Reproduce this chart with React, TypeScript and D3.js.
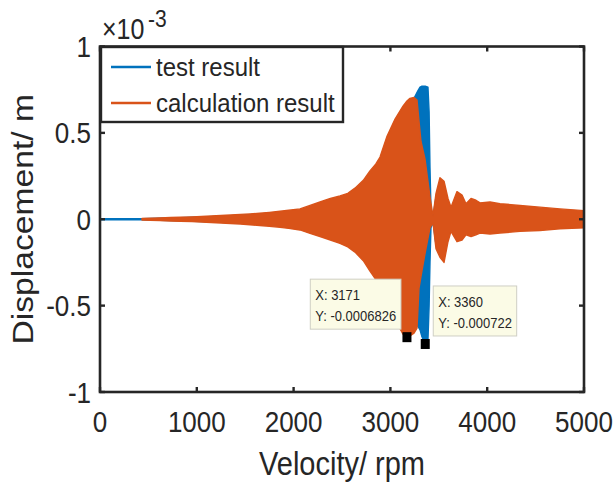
import React from "react";
import * as d3 from "d3";

// ---------- data (displacement values in units of 1e-3 m) ----------
const xTicks = [0, 1000, 2000, 3000, 4000, 5000];
const xTickLabels = ["0", "1000", "2000", "3000", "4000", "5000"];
const yTicks = [-1, -0.5, 0, 0.5, 1];
const yTickLabels = ["-1", "-0.5", "0", "0.5", "1"];
const yExponent = "-3";

const seriesNames = ["test result", "calculation result"];

// test result envelope
const testRpm = [0, 434, 620, 830, 1050, 1250, 1450, 1650, 1860, 2066, 2273, 2479, 2634, 2789, 2893, 2965, 3048, 3130, 3202, 3244, 3285, 3306, 3326, 3360, 3388, 3400, 3409, 3419, 3440, 3471, 3512, 3554, 3595, 3626, 3688, 3740, 3781, 3833, 3926, 4132, 4545, 5000];
const testUpper = [0.003, 0.003, 0.006, 0.009, 0.013, 0.018, 0.023, 0.03, 0.04, 0.05, 0.085, 0.12, 0.16, 0.25, 0.33, 0.44, 0.54, 0.62, 0.67, 0.70, 0.745, 0.765, 0.77, 0.77, 0.765, 0.62, 0.30, 0.06, 0.015, 0.13, 0.21, 0.19, 0.10, 0.05, 0.13, 0.11, 0.07, 0.09, 0.07, 0.07, 0.06, 0.04];
const testLower = [-0.003, -0.003, -0.006, -0.009, -0.013, -0.018, -0.023, -0.03, -0.04, -0.05, -0.085, -0.12, -0.17, -0.27, -0.36, -0.45, -0.55, -0.63, -0.60, -0.60, -0.62, -0.64, -0.68, -0.722, -0.70, -0.50, -0.25, -0.05, -0.015, -0.15, -0.20, -0.21, -0.11, -0.05, -0.11, -0.10, -0.07, -0.08, -0.07, -0.07, -0.055, -0.04];

// calculation result envelope
const calcRpm = [434, 520, 620, 730, 830, 950, 1050, 1150, 1250, 1350, 1450, 1550, 1650, 1750, 1860, 1950, 2066, 2170, 2273, 2380, 2479, 2560, 2634, 2720, 2789, 2850, 2893, 2965, 3048, 3130, 3171, 3202, 3244, 3275, 3295, 3316, 3357, 3409, 3440, 3471, 3512, 3554, 3595, 3626, 3688, 3740, 3781, 3833, 3884, 3926, 4029, 4132, 4339, 4545, 4752, 5000];
const calcUpper = [0.004, 0.006, 0.008, 0.010, 0.012, 0.014, 0.016, 0.019, 0.022, 0.025, 0.028, 0.031, 0.035, 0.040, 0.046, 0.052, 0.06, 0.08, 0.10, 0.12, 0.135, 0.15, 0.18, 0.225, 0.28, 0.32, 0.36, 0.48, 0.58, 0.655, 0.685, 0.70, 0.705, 0.69, 0.57, 0.45, 0.35, 0.13, 0.02, 0.15, 0.24, 0.22, 0.12, 0.07, 0.16, 0.14, 0.09, 0.12, 0.11, 0.095, 0.10, 0.09, 0.08, 0.07, 0.06, 0.05];
const calcLower = [-0.004, -0.006, -0.008, -0.010, -0.012, -0.014, -0.016, -0.019, -0.022, -0.025, -0.028, -0.032, -0.036, -0.041, -0.047, -0.053, -0.062, -0.082, -0.10, -0.12, -0.14, -0.16, -0.19, -0.24, -0.30, -0.35, -0.39, -0.48, -0.58, -0.665, -0.6826, -0.675, -0.66, -0.63, -0.40, -0.33, -0.20, -0.05, -0.02, -0.17, -0.22, -0.25, -0.13, -0.07, -0.13, -0.12, -0.09, -0.10, -0.09, -0.08, -0.085, -0.08, -0.07, -0.065, -0.055, -0.05];

// data tips (real units)
const tipX = [3171, 3360];
const tipY = [-0.0006826, -0.000722];

// ---------- layout / style ----------
const W = 614, H = 484;
const M = { left: 100, right: 584, top: 46.5, bottom: 392 };
const BLUE = "#0072BD";
const ORANGE = "#D95319";
const INK = "#262626";
const FONT = "'Liberation Sans', Arial, Helvetica, sans-serif";
const SY = 1.16; // vertical stretch of glyphs seen in the reference

const x = d3.scaleLinear().domain([0, 5000]).range([M.left, M.right]);
const y = d3.scaleLinear().domain([-1, 1]).range([M.bottom, M.top]);

type Env = { r: number; u: number; l: number };
const zipEnv = (r: number[], u: number[], l: number[]): Env[] => r.map((v, i) => ({ r: v, u: u[i], l: l[i] }));
const testData = zipEnv(testRpm, testUpper, testLower);
const calcData = zipEnv(calcRpm, calcUpper, calcLower);

const area = d3.area<Env>().x((d) => x(d.r)).y0((d) => y(d.l)).y1((d) => y(d.u));

const charW: Record<string, number> = { X: 0.667, Y: 0.667, ":": 0.278, " ": 0.278, "-": 0.333, ".": 0.278 };
const textW = (s: string, fs: number) => s.split("").reduce((a, c) => a + (charW[c] ?? 0.556), 0) * fs;

function T(props: { x: number; y: number; k?: number; rot?: number; children: React.ReactNode; [k: string]: any }) {
  const { x: tx, y: ty, k = SY, rot, children, ...rest } = props;
  const tr = rot != null ? `translate(${tx},${ty}) rotate(${rot}) scale(${k},1)` : `translate(${tx},${ty}) scale(1,${k})`;
  return (
    <text transform={tr} fontFamily={FONT} fill={INK} {...rest}>
      {children}
    </text>
  );
}

export default function App() {
  const tickLen = 5;
  const tips = tipX.map((tx, i) => ({ tx, ty: tipY[i] }));
  return (
    <svg width={W} height={H} style={{ display: "block", position: "absolute", left: 0, top: 0 }}>
      <rect x={0} y={0} width={W} height={H} fill="#fff" />
      {/* data */}
      <path d={area(testData) || ""} fill={BLUE} stroke={BLUE} strokeWidth={1.4} strokeLinejoin="round" />
      <path d={area(calcData) || ""} fill={ORANGE} stroke={ORANGE} strokeWidth={1.4} strokeLinejoin="round" />

      {/* axes box */}
      <rect x={M.left} y={M.top} width={M.right - M.left} height={M.bottom - M.top} fill="none" stroke={INK} strokeWidth={2.6} />
      {xTicks.map((t) => (
        <g key={"xt" + t}>
          <line x1={x(t)} x2={x(t)} y1={M.bottom} y2={M.bottom - tickLen} stroke={INK} strokeWidth={2.4} />
          <line x1={x(t)} x2={x(t)} y1={M.top} y2={M.top + tickLen} stroke={INK} strokeWidth={2.4} />
        </g>
      ))}
      {yTicks.map((t) => (
        <g key={"yt" + t}>
          <line x1={M.left} x2={M.left + tickLen} y1={y(t)} y2={y(t)} stroke={INK} strokeWidth={2.4} />
          <line x1={M.right} x2={M.right - tickLen} y1={y(t)} y2={y(t)} stroke={INK} strokeWidth={2.4} />
        </g>
      ))}
      {xTicks.map((t, i) => (
        <T key={"xl" + t} x={x(t)} y={432} fontSize={26} textAnchor="middle">
          {xTickLabels[i]}
        </T>
      ))}
      {yTicks.map((t, i) => (
        <T key={"yl" + t} x={91} y={y(t) + 10.5} fontSize={26} textAnchor="end">
          {yTickLabels[i]}
        </T>
      ))}
      {/* exponent */}
      <T x={102} y={39} fontSize={25}>
        ×10
      </T>
      <T x={148} y={27} fontSize={21}>
        {yExponent}
      </T>
      {/* axis labels */}
      <T x={(M.left + M.right) / 2} y={475} fontSize={29} textAnchor="middle">
        Velocity/ rpm
      </T>
      <T x={33} y={(M.top + M.bottom) / 2} rot={-90} k={1.16} fontSize={29} textAnchor="middle">
        Displacement/ m
      </T>

      {/* legend */}
      <rect x={101} y={47} width={242} height={75} fill="#fff" stroke={INK} strokeWidth={2.4} />
      {seriesNames.map((n, i) => (
        <g key={n}>
          <line x1={111} x2={151} y1={67 + i * 36} y2={67 + i * 36} stroke={i === 0 ? BLUE : ORANGE} strokeWidth={2.5} />
          <T x={156} y={76 + i * 36} k={1.1} fontSize={24}>
            {n}
          </T>
        </g>
      ))}

      {/* data tips */}
      {tips.map((d, i) => {
        const px = x(d.tx);
        const py = y(d.ty * 1000);
        const l1 = `X: ${d.tx}`;
        const l2 = `Y: ${d.ty}`;
        const bw = Math.max(textW(l1, 13), textW(l2, 13)) + 9;
        const bh = 50;
        const bx = i === 0 ? px - 6 - bw : px + 8;
        const by = i === 0 ? py - 8 - bh : py - 58;
        return (
          <g key={"tip" + i}>
            <rect x={bx} y={by} width={bw} height={bh} fill="#FBFBE6" stroke="#CFCFC4" strokeWidth={1} />
            <T x={bx + 5} y={by + 21} k={1.17} fontSize={13}>
              {l1}
            </T>
            <T x={bx + 5} y={by + 42} k={1.17} fontSize={13}>
              {l2}
            </T>
            <rect x={px - 4.5} y={py - 5} width={9} height={10} fill="#000" />
          </g>
        );
      })}
    </svg>
  );
}
